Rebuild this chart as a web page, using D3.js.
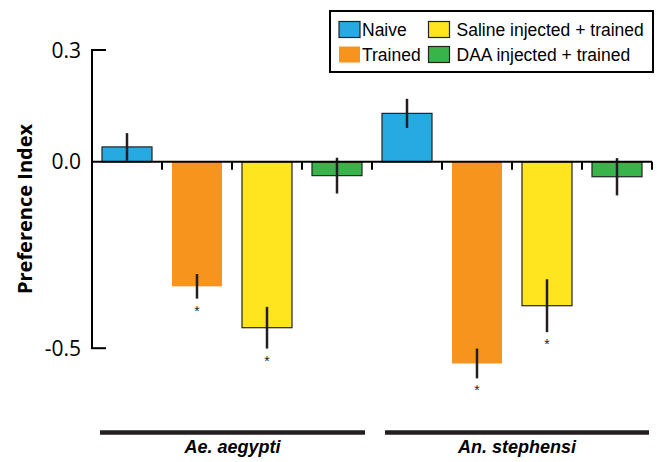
<!DOCTYPE html>
<html><head><meta charset="utf-8">
<script src="https://cdn.jsdelivr.net/npm/d3@7"></script>
<style>body{margin:0;background:#fff;} svg{display:block;}</style>
</head><body>
<svg id="c" width="657" height="462"></svg>
<script>
const groups = ["Ae. aegypti", "An. stephensi"];
const treatments = ["Naive", "Trained", "Saline injected + trained", "DAA injected + trained"];
const colors = ["#27AAE1", "#F7941E", "#FFE51F", "#39B44A"];
const strokes = ["#222", "none", "#222", "#222"];
const aeValues = [0.040, -0.334, -0.445, -0.037];
const aeErrors = [0.037, 0.033, 0.056, 0.048];
const anValues = [0.130, -0.541, -0.386, -0.040];
const anErrors = [0.039, 0.040, 0.071, 0.050];
const aeSig = [false, true, true, false];
const anSig = [false, true, true, false];
const yTicks = [0.3, 0.0, -0.5];
const yTickLabels = ["0.3", "0.0", "-0.5"];

const data = [];
groups.forEach((g, gi) => {
  const vals = gi === 0 ? aeValues : anValues;
  const errs = gi === 0 ? aeErrors : anErrors;
  const sig = gi === 0 ? aeSig : anSig;
  treatments.forEach((t, ti) => data.push({key: g + "|" + t, g, gi, t, ti, v: vals[ti], e: errs[ti], s: sig[ti]}));
});

const svg = d3.select("#c");
const x = d3.scaleBand().domain(data.map(d => d.key)).range([92, 652]).paddingInner(20/70).paddingOuter(10/70);
const y = d3.scaleLinear().domain([-0.5, 0.3]).range([348.2, 50]);
const bandStep = x.step();
const x0 = 92;

// bars
svg.selectAll("rect.bar").data(data).join("rect")
  .attr("class", "bar")
  .attr("x", d => x(d.key))
  .attr("width", x.bandwidth())
  .attr("y", d => y(Math.max(0, d.v)))
  .attr("height", d => Math.abs(y(d.v) - y(0)))
  .attr("fill", d => colors[d.ti])
  .attr("stroke", d => strokes[d.ti])
  .attr("stroke-width", 1.2);

// error bars
svg.selectAll("line.err").data(data).join("line")
  .attr("x1", d => x(d.key) + x.bandwidth()/2)
  .attr("x2", d => x(d.key) + x.bandwidth()/2)
  .attr("y1", d => y(d.v + d.e))
  .attr("y2", d => y(d.v - d.e))
  .attr("stroke", "#231F20").attr("stroke-width", 2.5);

// significance
svg.selectAll("text.sig").data(data.filter(d => d.s)).join("text")
  .attr("x", d => x(d.key) + x.bandwidth()/2)
  .attr("y", d => y(d.v - d.e) + 17)
  .attr("text-anchor", "middle")
  .attr("font-family", "Liberation Sans, Arial, sans-serif")
  .attr("font-size", 14).attr("fill", "#231F20")
  .text("*");

// x axis line at zero
svg.append("line").attr("x1", x0).attr("x2", 652).attr("y1", y(0)).attr("y2", y(0))
  .attr("stroke", "#000").attr("stroke-width", 2);
// x ticks at band boundaries
const boundaries = d3.range(1, data.length + 1).map(i => x0 + i * bandStep);
svg.selectAll("line.xt").data(boundaries).join("line")
  .attr("x1", d => d).attr("x2", d => d)
  .attr("y1", y(0)).attr("y2", y(0) + 8)
  .attr("stroke", "#000").attr("stroke-width", 2);

// y axis
svg.append("line").attr("x1", x0).attr("x2", x0).attr("y1", y(0.3)).attr("y2", y(-0.5))
  .attr("stroke", "#000").attr("stroke-width", 2);
svg.selectAll("line.yt").data([0.3, -0.5]).join("line")
  .attr("x1", x0 - 1).attr("x2", x0 + 14)
  .attr("y1", d => y(d)).attr("y2", d => y(d))
  .attr("stroke", "#000").attr("stroke-width", 2);
svg.selectAll("text.yl").data(yTicks).join("text")
  .attr("x", 81).attr("y", d => y(d) + 7.5)
  .attr("text-anchor", "end")
  .attr("font-family", "Open Sans, sans-serif").attr("font-size", 21)
  .attr("fill", "#000")
  .text((d, i) => yTickLabels[i]);

// y label
svg.append("text")
  .attr("transform", "translate(32,209) rotate(-90)")
  .attr("text-anchor", "middle")
  .attr("font-family", "Open Sans, sans-serif").attr("font-weight", "bold").attr("font-size", 20)
  .attr("fill", "#000")
  .text("Preference Index");

// group lines and labels
const groupExtents = [[100, 365], [385, 649]];
groups.forEach((g, gi) => {
  svg.append("line").attr("x1", groupExtents[gi][0]).attr("x2", groupExtents[gi][1])
    .attr("y1", 432.5).attr("y2", 432.5).attr("stroke", "#231F20").attr("stroke-width", 4.5);
  svg.append("text")
    .attr("x", (groupExtents[gi][0] + groupExtents[gi][1]) / 2).attr("y", 453)
    .attr("text-anchor", "middle")
    .attr("font-family", "Liberation Sans, Arial, sans-serif").attr("font-weight", "bold")
    .attr("font-style", "italic").attr("font-size", 18).attr("fill", "#000")
    .text(g);
});

// legend
const lg = svg.append("g");
lg.append("rect").attr("x", 330).attr("y", 11).attr("width", 323).attr("height", 61)
  .attr("fill", "#fff").attr("stroke", "#000").attr("stroke-width", 2);
const legPos = [[339, 21.5], [339, 46.5], [428.5, 21.5], [428.5, 46.5]];
treatments.forEach((t, i) => {
  lg.append("rect").attr("x", legPos[i][0]).attr("y", legPos[i][1]).attr("width", 21).attr("height", 16)
    .attr("fill", colors[i]).attr("stroke", strokes[i]).attr("stroke-width", 1.2);
  lg.append("text").attr("x", legPos[i][0] + (i < 2 ? 23 : 28)).attr("y", legPos[i][1] + 14.5)
    .attr("font-family", "Liberation Sans, Arial, sans-serif").attr("font-size", 17.5).attr("fill", "#000")
    .text(t);
});
</script>
</body></html>
